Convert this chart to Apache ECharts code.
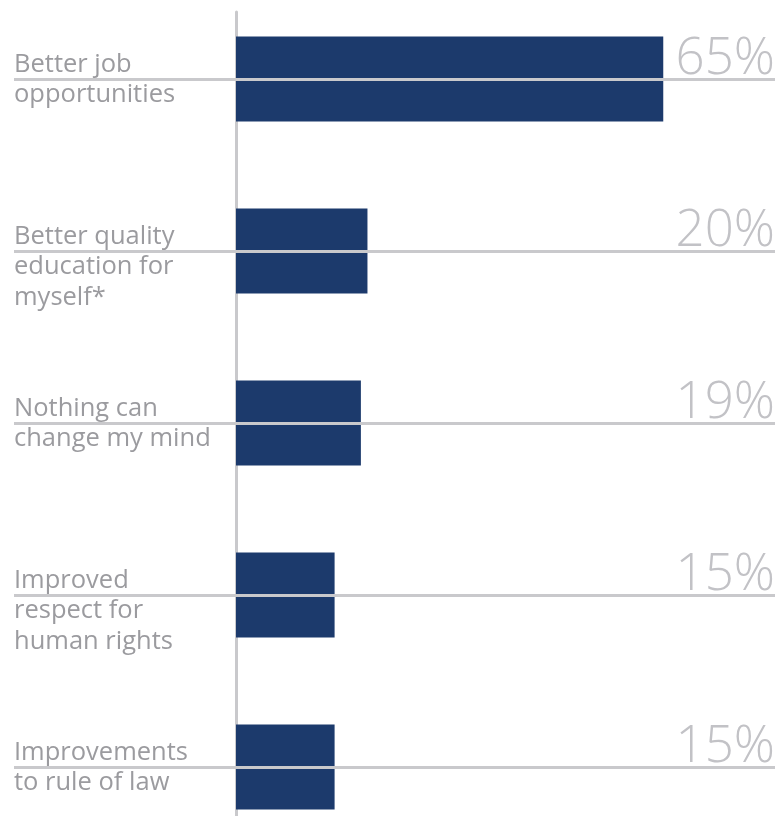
<!DOCTYPE html>
<html>
<head>
<meta charset="utf-8">
<script src="https://cdn.jsdelivr.net/npm/echarts@6/dist/echarts.min.js"></script>
<style>
html,body{margin:0;padding:0;background:#fff;}
#chart{width:778px;height:816px;}
</style>
</head>
<body>
<div id="chart"></div>
<script>
// Category label lines (first line sits above the separator, the rest below)
const labelLines = [
  ["Better job", "opportunities"],
  ["Better quality", "education for", "myself*"],
  ["Nothing can", "change my mind"],
  ["Improved", "respect for", "human rights"],
  ["Improvements", "to rule of law"]
];
const categories = labelLines.map(l => l.join(" "));
const values = [65, 20, 19, 15, 15];
const percentLabels = ["65%", "20%", "19%", "15%", "15%"];

const barColor = "#1c3a6c";
const lineColor = "#c9c9cc";
const catText = "#9b9b9f";
const pctText = "#c2c2c6";
const font = "'Open Sans', 'Noto Sans', sans-serif";

const chart = echarts.init(document.getElementById('chart'), null, {renderer: 'canvas'});
const firstLine = {};
const restLines = {};
const pctMap = {};
categories.forEach((c, i) => {
  firstLine[c] = labelLines[i][0];
  restLines[c] = labelLines[i].slice(1).join("\n");
  pctMap[c] = percentLabels[i];
});

const option = {
  animation: false,
  backgroundColor: '#ffffff',
  grid: [
    {left: 236, right: 3, top: -7, height: 860, outerBoundsMode: 'none', containLabel: false},
    {left: 236, width: 10, top: 12, bottom: 0, outerBoundsMode: 'none'}
  ],
  xAxis: [
    {type: 'value', gridIndex: 0, min: 0, max: 82, show: false},
    {type: 'value', gridIndex: 1, show: false}
  ],
  yAxis: [
    {
      type: 'category', gridIndex: 0, data: categories, inverse: true, position: 'left',
      axisLine: {show: false},
      axisTick: {show: true, alignWithLabel: true, length: 222, lineStyle: {color: lineColor, width: 3}},
      axisLabel: {
        interval: 0, margin: 222, align: 'left', verticalAlign: 'bottom',
        fontFamily: font, fontSize: 25.5, lineHeight: 29, color: catText,
        formatter: v => firstLine[v]
      }
    },
    {
      type: 'category', gridIndex: 0, data: categories, inverse: true, position: 'left', z: 10,
      axisLine: {show: false},
      axisTick: {show: true, inside: true, alignWithLabel: true, length: 539, lineStyle: {color: lineColor, width: 3}},
      axisLabel: {
        interval: 0, margin: 222, align: 'left', verticalAlign: 'top',
        fontFamily: font, fontSize: 25.5, lineHeight: 31, color: catText,
        formatter: v => restLines[v]
      }
    },
    {
      type: 'category', gridIndex: 0, data: categories, inverse: true, position: 'right',
      axisLine: {show: false}, axisTick: {show: false},
      axisLabel: {
        interval: 0, inside: true, margin: 0, verticalAlign: 'bottom',
        fontFamily: font, fontWeight: 300, fontSize: 51, lineHeight: 39, color: pctText,
        formatter: v => pctMap[v]
      }
    },
    {
      type: 'value', gridIndex: 1, position: 'left',
      axisLine: {show: true, lineStyle: {color: lineColor, width: 3}},
      axisTick: {show: false}, axisLabel: {show: false}, splitLine: {show: false}
    }
  ],
  series: [
    {
      type: 'bar', xAxisIndex: 0, yAxisIndex: 0, data: values, barWidth: 85,
      itemStyle: {color: barColor}
    }
  ]
};
chart.setOption(option);
</script>
</body>
</html>
